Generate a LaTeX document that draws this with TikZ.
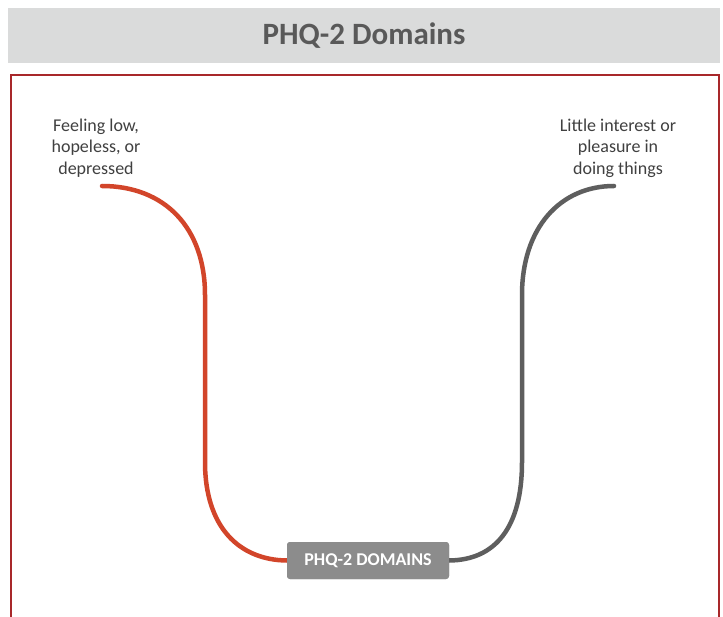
\documentclass[tikz,border=0pt]{standalone}
\usepackage{fontspec}
\setmainfont{Carlito}
\definecolor{titlebg}{HTML}{DADBDB}
\definecolor{titletext}{HTML}{595959}
\definecolor{framered}{HTML}{A8282A}
\definecolor{labeltext}{HTML}{404040}
\definecolor{branchred}{HTML}{D2452A}
\definecolor{branchgrey}{HTML}{5E5E5E}
\definecolor{hubfill}{HTML}{8C8C8C}
\tikzset{
  leaf/.style={align=center, font=\fontsize{18}{21.5}\selectfont, text=labeltext, inner sep=0pt},
  hub/.style={rounded corners=3pt, fill=hubfill, text=white, font=\bfseries\fontsize{18}{20}\selectfont,
    minimum width=162pt, minimum height=37pt, inner sep=0pt},
  branch/.style={line width=4.5pt, line cap=round},
}
\begin{document}
\begin{tikzpicture}[x=1pt, y=-1pt]
  \useasboundingbox (0,0) rectangle (723,617);
  \fill[white] (0,0) rectangle (723,617);
  % title bar
  \node[fill=titlebg, minimum width=712pt, minimum height=55pt, inner sep=0pt,
        text=titletext, font=\bfseries\fontsize{31}{34}\selectfont] (title) at (364,36) {PHQ-2 Domains};
  % frame, open at the bottom edge
  \draw[framered, line width=2.2pt] (11,625) -- (11,75) -- (719,75) -- (719,625);
  % labels
  \node[leaf] (left) at (96,148) {Feeling low,\\hopeless, or\\depressed};
  \node[leaf] (right) at (618,148) {Little interest or\\pleasure in\\doing things};
  % central box
  \node[hub] (hub) at (368,560.5) {PHQ-2 DOMAINS};
  % branch ends
  \coordinate (lend) at (102,186);
  \coordinate (rend) at (614,186);
  % branches
  \draw[branch, branchred] (lend) .. controls (165,186) and (205,228) .. (205,295)
     -- (205,462) .. controls (205,528) and (240,560) .. (hub.west);
  \draw[branch, branchgrey] (rend) .. controls (560,186) and (522,228) .. (522,295)
     -- (522,462) .. controls (522,528) and (495,560) .. (hub.east);
  \node[hub] at (hub) {PHQ-2 DOMAINS};
\end{tikzpicture}
\end{document}
